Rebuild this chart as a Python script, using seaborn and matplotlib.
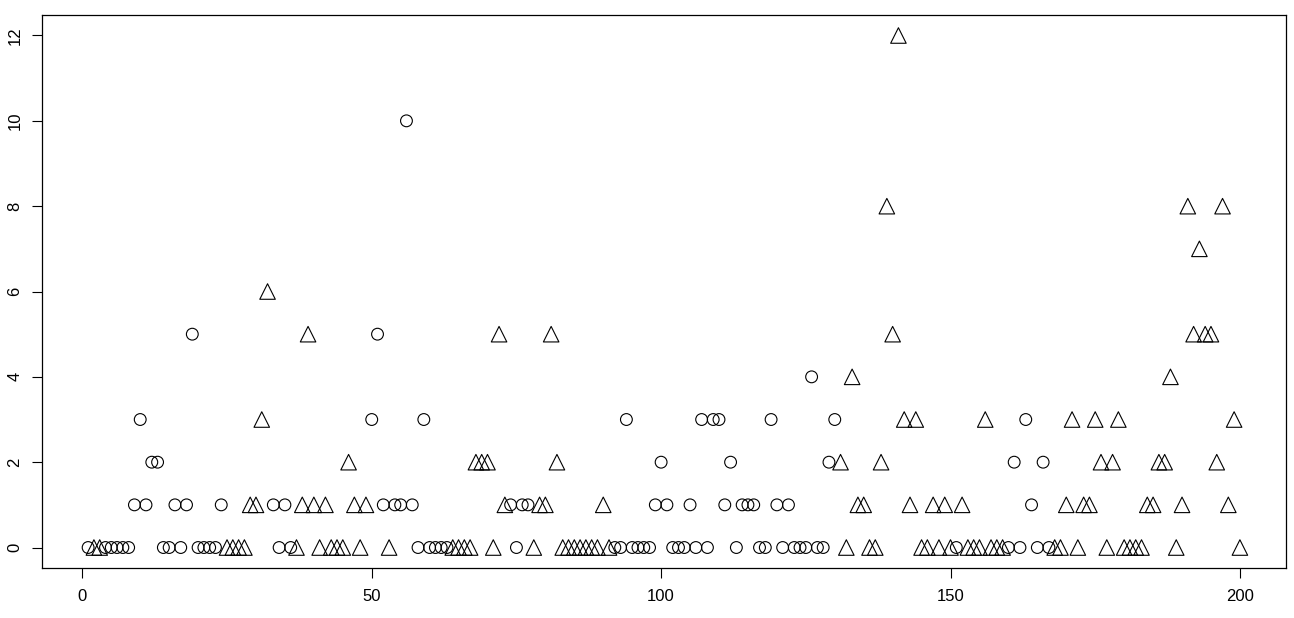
import numpy as np
import pandas as pd
import matplotlib
matplotlib.use("Agg")
import matplotlib.pyplot as plt
import seaborn as sns

# values, index 1..200
counts = [
    0, 0, 0, 0, 0, 0, 0, 0, 1, 3,
    1, 2, 2, 0, 0, 1, 0, 1, 5, 0,
    0, 0, 0, 1, 0, 0, 0, 0, 1, 1,
    3, 6, 1, 0, 1, 0, 0, 1, 5, 1,
    0, 1, 0, 0, 0, 2, 1, 0, 1, 3,
    5, 1, 0, 1, 1, 10, 1, 0, 3, 0,
    0, 0, 0, 0, 0, 0, 0, 2, 2, 2,
    0, 5, 1, 1, 0, 1, 1, 0, 1, 1,
    5, 2, 0, 0, 0, 0, 0, 0, 0, 1,
    0, 0, 0, 3, 0, 0, 0, 0, 1, 2,
    1, 0, 0, 0, 1, 0, 3, 0, 3, 3,
    1, 2, 0, 1, 1, 1, 0, 0, 3, 1,
    0, 1, 0, 0, 0, 4, 0, 0, 2, 3,
    2, 0, 4, 1, 1, 0, 0, 2, 8, 5,
    12, 3, 1, 3, 0, 0, 1, 0, 1, 0,
    0, 1, 0, 0, 0, 3, 0, 0, 0, 0,
    2, 0, 3, 1, 0, 2, 0, 0, 0, 1,
    3, 0, 1, 1, 3, 2, 0, 2, 3, 0,
    0, 0, 0, 1, 1, 2, 2, 4, 0, 1,
    8, 5, 7, 5, 5, 2, 8, 1, 3, 0,
]

# marker group in runs: (group, how many consecutive points)
group_runs = [
    ("c", 1), ("t", 2), ("c", 21), ("t", 8), ("c", 4), ("t", 13),
    ("c", 3), ("t", 1), ("c", 10), ("t", 10), ("c", 4), ("t", 14),
    ("c", 39), ("t", 20), ("c", 1), ("t", 8), ("c", 8), ("t", 33),
]

groups = [g for g, n in group_runs for _ in range(n)]

df = pd.DataFrame({
    "index": np.arange(1, len(counts) + 1),
    "value": counts,
    "group": groups,
})

sns.set_style("white")
plt.rcParams["font.family"] = ["Liberation Sans", "DejaVu Sans"]

fig = plt.figure(figsize=(12.94, 6.18), dpi=100)
ax = fig.add_axes([0.0325, 0.0809, 0.9613, 0.8948])

sns.scatterplot(data=df[df["group"] == "c"], x="index", y="value", marker="o",
                s=72, facecolor="none", edgecolor="black", linewidth=0.8, ax=ax)
sns.scatterplot(data=df[df["group"] == "t"], x="index", y="value", marker="^",
                s=125, facecolor="none", edgecolor="black", linewidth=0.8, ax=ax)

ax.set_xlim(-6.96, 207.96)
ax.set_ylim(-0.48, 12.48)
ax.set_xticks([0, 50, 100, 150, 200])
ax.set_yticks([0, 2, 4, 6, 8, 10, 12])
ax.set_xlabel("")
ax.set_ylabel("")
for sp in ax.spines.values():
    sp.set_visible(True)
    sp.set_color("black")
    sp.set_linewidth(0.9)
ax.tick_params(axis="both", direction="out", length=7, width=0.8, colors="black",
               labelsize=12, left=True, bottom=True)
ax.tick_params(axis="x", pad=8)
ax.tick_params(axis="y", pad=7)
for lab in ax.get_yticklabels():
    lab.set_rotation(90)
    lab.set_va("center")

fig.savefig("out.png", dpi=100)
